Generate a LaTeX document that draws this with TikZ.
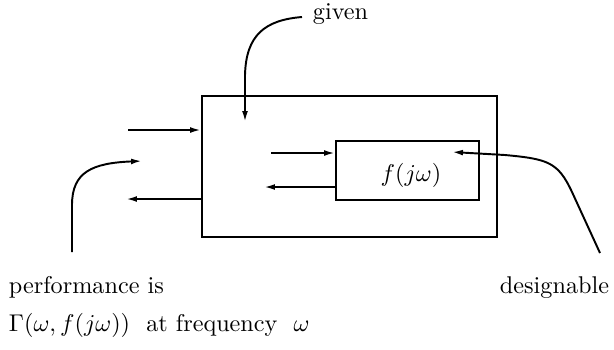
\documentclass[tikz,border=0pt]{standalone}
\usetikzlibrary{arrows.meta}
\begin{document}
\begin{tikzpicture}[x=0.4132pt,y=-0.4132pt,
  line width=0.8pt,
  arr/.style={-{Latex[length=4.5pt,width=2.4pt]}},
  box/.style={draw,inner sep=0pt},
  lbl/.style={inner sep=0pt,font=\fontsize{10}{12}\selectfont}]
\useasboundingbox (0,0) rectangle (614,349);
% boxes
\node[box,minimum width=121.9pt,minimum height=58.3pt] (outer) at (349.5,166.5) {};
\node[box,minimum width=59.1pt,minimum height=24.4pt] (inner) at (407.5,170.5) {};
\node[lbl] (f) at (411,175) {$f(j\omega)$};
% free ends
\coordinate (inA) at (128,130);
\coordinate (outA) at (126,199);
\coordinate (inB) at (271,153);
\coordinate (outB) at (264,187);
\draw[arr] (inA) -- (inA -| outer.west);
\draw[arr] (outA -| outer.west) -- (outA);
\draw[arr] (inB) -- (inB -| inner.west);
\draw[arr] (outB -| inner.west) -- (outB);
% labels
\node[lbl,anchor=base west] (given) at (312,19) {given};
\node[lbl,anchor=base west] (perf) at (8,293) {performance is};
\node[lbl,anchor=base west] (gam) at (8,331) {$\Gamma(\omega,f(j\omega))$\ \ at frequency\ \ $\omega$};
\node[lbl,anchor=base east] (des) at (610,293) {designable};
% curved pointers
\coordinate (g0) at (302,17);
\coordinate (g1) at (245,122);
\draw[arr] (g0) .. controls (265,20) and (246,35) .. (245,75) -- (g1);
\coordinate (p0) at (72,252);
\coordinate (p1) at (142,161);
\draw[arr] (p0) -- (72,205) .. controls (72,172) and (92,163) .. (p1);
\coordinate (d0) at (600,253);
\coordinate (d1) at (452,152);
\draw[arr] (d0) -- (572,192) .. controls (558,162) and (548,159) .. (505,155) -- (d1);
\end{tikzpicture}
\end{document}
